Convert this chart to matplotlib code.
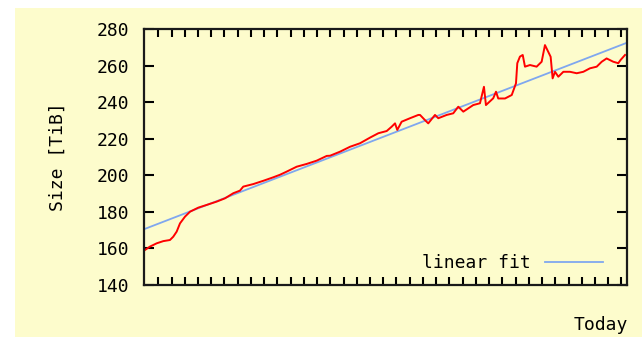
import matplotlib
matplotlib.use('Agg')
import matplotlib.pyplot as plt
import numpy as np

# days since start of the window (right edge = today) and storage size in TiB
days = [0, 4.5, 9.6, 14.6, 19.6, 22.1, 24.7, 27.2, 31, 34.8, 41, 47.4, 54.9, 61.2, 67.5,
        72.5, 75, 82.6, 90.2, 97.7, 102.8, 107.8, 115.4, 122.9, 130.5, 138.1, 140.6,
        148.1, 155.7, 163.2, 170.8, 177.1, 183.4, 187.2, 189.7, 191.4, 194.7, 201, 207.3,
        208.6, 212.3, 214.8, 219.9, 222.4, 228.7, 233.7, 237.5, 241.3, 248.8, 253.9,
        256.9, 258.4, 263.9, 266, 267.7, 272.8, 277.9, 281.1, 282.1, 284.1, 286.2, 287.9,
        291.7, 296.7, 300.5, 303, 305.5, 307.3, 308.8, 310.6, 313.1, 316.9, 321.9, 327,
        332, 337, 342.1, 345.9, 349.6, 354.6, 358.4, 360.2, 363.5]
size_tib = [158.8, 161, 162.8, 164, 164.6, 166.4, 169.2, 173.7, 177.4, 180.1, 182.3, 183.8,
            185.6, 187.4, 190.2, 191.6, 193.8, 195.2, 197, 198.9, 200.3, 202, 204.7, 206.2,
            208, 210.6, 210.7, 212.9, 215.6, 217.5, 220.6, 223, 224.2, 226.6, 228.4, 224.8,
            229.3, 231.2, 233, 233, 230.2, 228.4, 233, 231.2, 233, 233.9, 237.5, 234.8,
            238.4, 239.4, 248.4, 238.4, 242.1, 245.7, 242, 242, 243.9, 250.3, 261.3, 264.9,
            265.8, 259.4, 260.3, 259.4, 262.1, 271.2, 267.5, 264.8, 253, 256.6, 253.9, 256.6,
            256.6, 255.8, 256.6, 258.5, 259.4, 262.1, 263.9, 262.1, 261.3, 263.1, 265.8]

window_days = 365
fit_start, fit_end = 170.5, 272.5

bg = '#fdfccc'
fig = plt.figure(figsize=(6.42, 3.37), dpi=100, facecolor='white')
fig.patches.append(plt.Rectangle((15 / 642, 0), 1, 1 - 8 / 337, transform=fig.transFigure,
                                 facecolor=bg, edgecolor='none', zorder=-10))
ax = fig.add_axes([144 / 642, 52 / 337, 483 / 642, 256 / 337])
ax.set_facecolor(bg)

mono = 'DejaVu Sans Mono'
ax.plot([0, window_days], [fit_start, fit_end], color='#7fa7ef', lw=1.3, label='linear fit')
ax.plot(days, size_tib, color='#ff0000', lw=1.4)

ax.set_xlim(0, window_days)
ax.set_ylim(140, 280)
ax.set_yticks(range(140, 281, 20))
ax.set_xticks(np.arange(10.8, window_days, 10))
ax.tick_params(axis='y', direction='in', length=7, width=1.5, left=True, right=True,
               labelsize=13, pad=10.5)
ax.tick_params(axis='x', direction='in', length=5.5, width=1.5, top=True, bottom=True,
               labelbottom=False)
for lbl in ax.get_yticklabels():
    lbl.set_family(mono)
for s in ax.spines.values():
    s.set_linewidth(1.6)
    s.set_color('#1a1a1a')

ax.set_ylabel('Size [TiB]', family=mono, fontsize=13)
ax.yaxis.set_label_coords(-0.16, 0.5)
fig.text(628 / 642, 1 - 325 / 337, 'Today', family=mono, fontsize=13, ha='right', va='center')

ax.legend(loc='center right', bbox_to_anchor=(0.950, 0.084), frameon=False, markerfirst=False,
          borderpad=0, borderaxespad=0, handlelength=3.2, handletextpad=0.8,
          prop={'family': mono, 'size': 13})

fig.savefig('out.png', dpi=100, facecolor=fig.get_facecolor())
